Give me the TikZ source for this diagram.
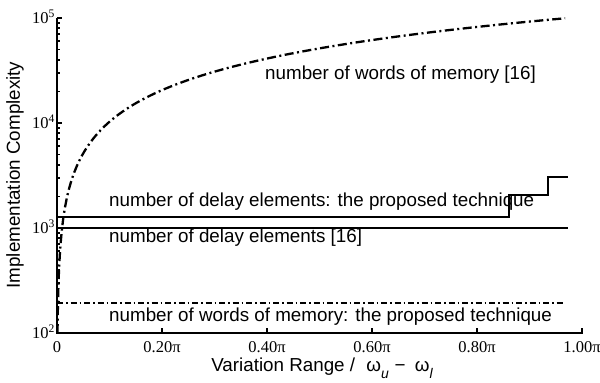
\documentclass[tikz,border=0pt]{standalone}
\usepackage{fontspec}
\setmainfont{Liberation Sans}
\newfontfamily\serifnum{Liberation Serif}
\begin{document}
\begin{tikzpicture}[x=1pt,y=1pt,
  axisline/.style={line width=2.2pt, line join=miter},
  tickline/.style={line width=1.6pt},
  dataline/.style={line width=2pt},
  memline/.style={line width=2.3pt, dash pattern=on 9pt off 3.5pt on 2pt off 3.5pt},
  mempropline/.style={line width=1.6pt, dash pattern=on 6pt off 3pt on 1.5pt off 3pt},
  lab/.style={font=\fontsize{18.8}{20}\selectfont, inner sep=0pt, anchor=base west},
  ticklab/.style={font=\serifnum\fontsize{16.5}{18}\selectfont, inner sep=0pt},
]
\useasboundingbox (0,0) rectangle (600,383);
% axes
\coordinate (O) at (57,50);
\coordinate (Ytop) at (57,365);
\coordinate (Xend) at (583,50);
\draw[axisline] (Ytop) -- (O) -- (Xend);
% x ticks
\foreach \i in {1,...,5} \draw[tickline] (57+105*\i,50) -- ++(0,5);
% y ticks
\foreach \d in {0,...,3} \draw[tickline] (57,{50+105*(\d+1)}) -- ++(5,0);
\foreach \d in {0,1,2} \foreach \k in {2,...,9} \draw[tickline] (57,{50+105*(\d+log10(\k))}) -- ++(3,0);
% x tick labels
\foreach \i/\t in {0/0, 1/0.20π, 2/0.40π, 3/0.60π, 4/0.80π, 5/1.00π}
  \node[ticklab, anchor=base] (xt\i) at (57+105*\i, 30) {\t};
% y tick labels
\foreach \d in {2,...,5}
  \node[ticklab, anchor=base east] (yt\d) at (55, {50+105*(\d-2)-5.5}) {10\textsuperscript{\d}};
% data: delay elements [16]
\coordinate (d16s) at (57,155);
\coordinate (d16e) at (568,155);
\draw[dataline] (d16s) -- (d16e);
% data: delay elements proposed
\coordinate (dp0) at (57,166);
\coordinate (dp1) at (509,166);
\coordinate (dp2) at (509,188);
\coordinate (dp3) at (548,188);
\coordinate (dp4) at (548,206);
\coordinate (dp5) at (568,206);
\draw[dataline] (dp0) -- (dp1) -- (dp2) -- (dp3) -- (dp4) -- (dp5);
% data: memory proposed
\coordinate (mp0) at (57,80);
\coordinate (mp1) at (563,80);
\draw[mempropline] (mp0) -- (mp1);
% data: memory [16]
\draw[memline] plot[domain=-3:0, samples=300, variable=\t] ({57+511*pow(10,\t)}, {365+105*\t});
% labels
\node[lab] (lmem16) at (265,303) {number of words of memory [16]};
\node[lab] (ldprop) at (109,176) {number of delay elements: the proposed technique};
\node[lab] (ld16) at (109,140) {number of delay elements [16]};
\node[lab] (lmprop) at (109,61) {number of words of memory: the proposed technique};
\node[font=\fontsize{18.8}{20}\selectfont, rotate=90, inner sep=0pt] (ylab) at (15,208) {Implementation Complexity};
\node[lab, anchor=base] (xlab) at (322,12) {Variation Range /\hspace{0.6em}ω\raisebox{-0.4em}{\fontsize{14}{14}\selectfont\itshape u}\hspace{0.3em}−\hspace{0.5em}ω\raisebox{-0.4em}{\fontsize{14}{14}\selectfont\itshape l}};
\end{tikzpicture}
\end{document}
